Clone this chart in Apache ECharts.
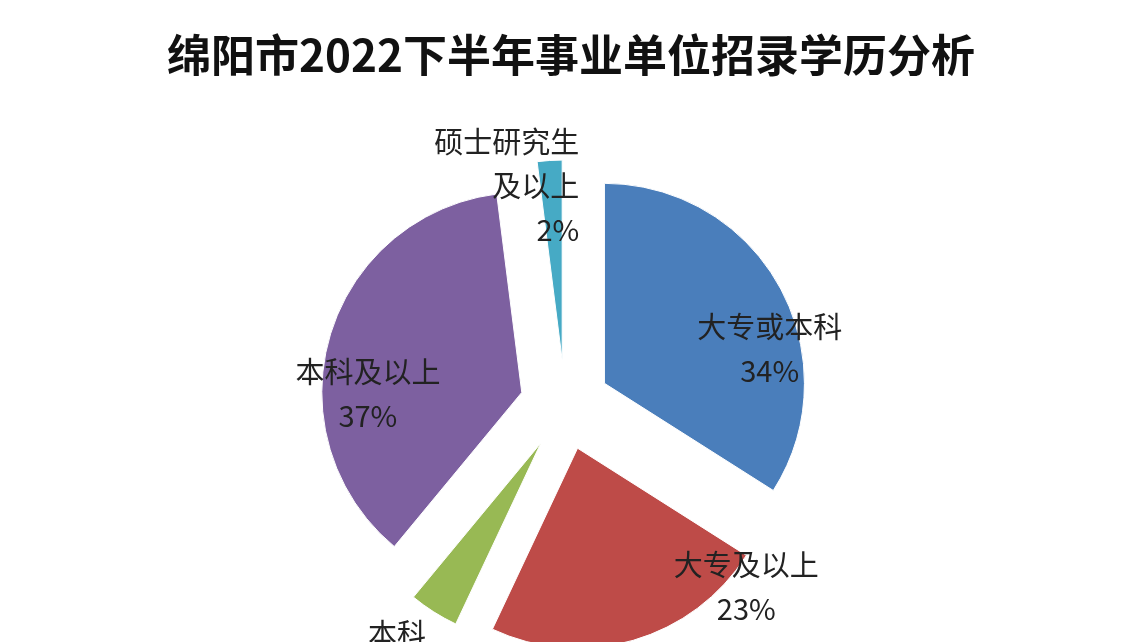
<!DOCTYPE html>
<html>
<head>
<meta charset="utf-8">
<script src="https://cdn.jsdelivr.net/npm/echarts@6/dist/echarts.min.js"></script>
<style>html,body{margin:0;background:#fff}#main{width:1142px;height:642px}</style>
</head>
<body>
<div id="main"></div>
<script>
var names = ['大专或本科', '大专及以上', '本科', '本科及以上', '硕士研究生\n及以上'];
var values = [34, 23, 4, 37, 2];
var colors = ['#4a7ebb', '#be4b48', '#98b954', '#7d60a0', '#46aac5'];
var labelInside = [true, true, false, true, false];
var labelShift = [[75, 15], [140, 40], [5, 40], [-55, 30], [40, 30]];

var myChart = echarts.init(document.getElementById('main'));
var data = names.map(function (n, i) {
    return {
        name: n,
        value: values[i],
        selected: true,
        itemStyle: { color: colors[i] },
        label: {
            position: labelInside[i] ? 'inside' : 'outside',
            align: 'center'
        },
        labelLine: { show: false }
    };
});
var option = {
    backgroundColor: '#fff',
    title: {
        text: '绵阳市2022下半年事业单位招录学历分析',
        left: 'center',
        top: 28,
        textStyle: { fontSize: 44, fontWeight: 'bold', color: '#111', fontFamily: 'Noto Sans CJK SC' }
    },
    series: [{
        type: 'pie',
        center: [565, 405],
        radius: 200,
        startAngle: 90,
        clockwise: true,
        selectedMode: 'multiple',
        selectedOffset: 45,
        animation: false,
        itemStyle: { borderColor: '#fff', borderWidth: 1 },
        label: {
            formatter: '{b}\n{d}%',
            fontSize: 29,
            lineHeight: 44,
            color: '#222',
            fontFamily: 'Noto Sans CJK SC'
        },
        labelLine: { show: false, length: 5, length2: 5 },
        labelLayout: function (params) {
            var s = labelShift[params.dataIndex];
            return { dx: s[0], dy: s[1] };
        },
        data: data
    }]
};
myChart.setOption(option);
</script>
</body>
</html>
